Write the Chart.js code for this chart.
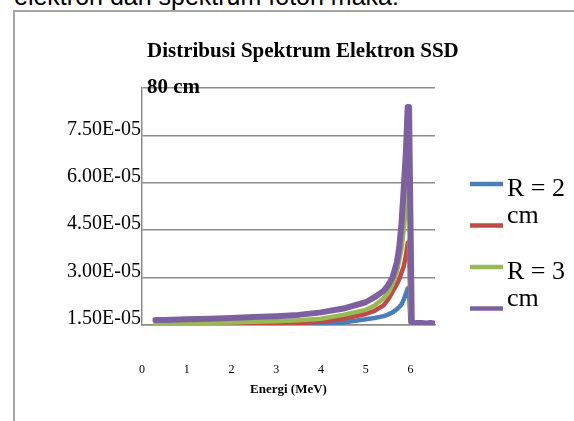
<!DOCTYPE html>
<html>
<head>
<meta charset="utf-8">
<script src="https://cdn.jsdelivr.net/npm/chart.js@4"></script>
<style>
  html, body { margin: 0; padding: 0; background: #fff; overflow: hidden; }
  body { width: 574px; height: 421px; position: relative; }
  #teksAtas {
    position: absolute; left: 14px; top: -16px; margin: 0;
    font: 25px/25px "Liberation Sans", Arial, sans-serif; color: #000; white-space: nowrap;
  }
  #bingkai {
    position: absolute; left: 13px; top: 10px; width: 620px; height: 460px;
    border: 2px solid #a6a6a6; box-sizing: border-box;
  }
  #wadah { position: absolute; left: 15px; top: 12px; width: 559px; height: 409px; }
</style>
</head>
<body>
<p id="teksAtas">elektron dan spektrum foton maka:</p>
<div id="bingkai"></div>
<div id="wadah"><canvas id="grafikSpektrum" width="559" height="409"></canvas></div>

<script>
// Judul grafik (dua baris seperti di gambar)
const judulBaris = ['Distribusi Spektrum Elektron SSD', '80 cm'];
const judulSumbuX = 'Energi (MeV)';

// Nama seri (seri merah dan ungu tidak terbaca di legenda)
const namaSeri = ['R = 2 cm', '', 'R = 3 cm', ''];
const warnaSeri = ['#4a7ebb', '#be4b48', '#98b954', '#7d60a0'];

// Energi (MeV)
const energi = [0.3, 0.5, 1.0, 1.5, 2.0, 2.5, 3.0, 3.5, 4.0, 4.5, 5.0, 5.2, 5.4, 5.5, 5.6,
                5.7, 5.75, 5.8, 5.85, 5.9, 5.94, 5.97, 6.0, 6.03, 6.07, 6.15, 6.25, 6.35, 6.45, 6.52];

// Nilai spektrum tiap seri
const seriR2 = [1.45e-5, 1.45e-5, 1.45e-5, 1.45e-5, 1.46e-5, 1.46e-5, 1.47e-5, 1.48e-5, 1.52e-5, 1.58e-5,
                1.68e-5, 1.72e-5, 1.78e-5, 1.83e-5, 1.90e-5, 2.00e-5, 2.07e-5, 2.15e-5, 2.30e-5, 2.50e-5,
                2.66e-5, 2.55e-5, 1.60e-5, 1.46e-5, 1.46e-5, 1.46e-5, 1.46e-5, 1.46e-5, 1.46e-5, 1.46e-5];
const seriMerah = [1.51e-5, 1.51e-5, 1.51e-5, 1.52e-5, 1.52e-5, 1.53e-5, 1.54e-5, 1.56e-5, 1.60e-5, 1.70e-5,
                   1.85e-5, 1.95e-5, 2.12e-5, 2.30e-5, 2.55e-5, 2.80e-5, 2.95e-5, 3.15e-5, 3.35e-5, 3.70e-5,
                   4.10e-5, 4.15e-5, 2.00e-5, 1.50e-5, 1.50e-5, 1.50e-5, 1.50e-5, 1.50e-5, 1.50e-5, 1.50e-5];
const seriR3 = [1.55e-5, 1.55e-5, 1.56e-5, 1.57e-5, 1.58e-5, 1.60e-5, 1.62e-5, 1.65e-5, 1.70e-5, 1.82e-5,
                1.98e-5, 2.12e-5, 2.35e-5, 2.50e-5, 2.78e-5, 3.20e-5, 3.55e-5, 3.90e-5, 4.50e-5, 5.20e-5,
                6.00e-5, 6.30e-5, 2.00e-5, 1.52e-5, 1.52e-5, 1.52e-5, 1.52e-5, 1.52e-5, 1.52e-5, 1.52e-5];
const seriUngu = [1.66e-5, 1.66e-5, 1.68e-5, 1.70e-5, 1.72e-5, 1.75e-5, 1.78e-5, 1.82e-5, 1.90e-5, 2.02e-5,
                  2.22e-5, 2.38e-5, 2.58e-5, 2.75e-5, 3.00e-5, 3.50e-5, 3.95e-5, 4.70e-5, 5.80e-5, 7.00e-5,
                  8.40e-5, 8.40e-5, 5.00e-5, 1.60e-5, 1.55e-5, 1.56e-5, 1.56e-5, 1.55e-5, 1.56e-5, 1.55e-5];

// Sumbu Y
const yMin = 1.5e-5;
const yMax = 9.0e-5;
const yLangkah = 1.5e-5;

// Sumbu X
const xMin = 0;
const xMax = 6.55;

const hurufSerif = '"Liberation Serif", "Times New Roman", serif';

// Format angka seperti Excel: 7.50E-05
function formatIlmiah(v) {
    const bagian = v.toExponential(2).split('e');
    const pangkat = Number(bagian[1]);
    return bagian[0] + 'E' + (pangkat < 0 ? '-' : '+') + String(Math.abs(pangkat)).padStart(2, '0');
}

function buatTitik(nilai) {
    return energi.map((e, i) => ({ x: e, y: nilai[i] }));
}

// Plugin kecil untuk judul dan legenda (menumpuk di area plot seperti aslinya)
const judulDanLegenda = {
    id: 'judulDanLegenda',
    afterDraw(chart) {
        const ctx = chart.ctx;
        const area = chart.chartArea;
        ctx.save();
        ctx.fillStyle = '#000';
        ctx.textAlign = 'left';
        ctx.textBaseline = 'alphabetic';

        // Judul
        ctx.font = 'bold 21px ' + hurufSerif;
        ctx.fillText(judulBaris[0], area.left + 5, area.top - 31);
        ctx.fillText(judulBaris[1], area.left + 5, area.top + 5);

        // Legenda
        ctx.font = '26px ' + hurufSerif;
        chart.data.datasets.forEach((ds, i) => {
            const y = area.top + 96 + i * 41.5;
            ctx.strokeStyle = ds.borderColor;
            ctx.lineWidth = 4.5;
            ctx.beginPath();
            ctx.moveTo(area.right + 35, y);
            ctx.lineTo(area.right + 68, y);
            ctx.stroke();

            if (ds.label) {
                const pisah = ds.label.lastIndexOf(' ');
                const baris = [ds.label.slice(0, pisah), ds.label.slice(pisah + 1)];
                ctx.fillText(baris[0], area.right + 72, y + 12);
                ctx.fillText(baris[1], area.right + 72, y + 39);
            }
        });
        ctx.restore();
    }
};

function buatDataset(label, nilai, warna, tebal, urutan) {
    return {
        label: label,
        data: buatTitik(nilai),
        borderColor: warna,
        backgroundColor: warna,
        borderWidth: tebal,
        pointRadius: 0,
        tension: 0,
        borderJoinStyle: 'round',
        borderCapStyle: 'round',
        fill: false,
        order: urutan
    };
}

function inisialisasiGrafik() {
    const ctx = document.getElementById('grafikSpektrum').getContext('2d');
    new Chart(ctx, {
        type: 'line',
        data: {
            datasets: [
                buatDataset(namaSeri[0], seriR2, warnaSeri[0], 4.5, 3),
                buatDataset(namaSeri[1], seriMerah, warnaSeri[1], 4.5, 2),
                buatDataset(namaSeri[2], seriR3, warnaSeri[2], 4.5, 1),
                buatDataset(namaSeri[3], seriUngu, warnaSeri[3], 6, 0)
            ]
        },
        options: {
            responsive: false,
            animation: false,
            layout: { padding: { left: 15, right: 139, top: 76, bottom: 0 } },
            plugins: {
                legend: { display: false },
                tooltip: { enabled: false },
                title: { display: false }
            },
            scales: {
                x: {
                    type: 'linear',
                    min: xMin,
                    max: xMax,
                    afterFit(scale) { scale.height = 96; },
                    grid: { display: false },
                    border: { display: true, color: '#8c8c8c', width: 1.5 },
                    ticks: {
                        stepSize: 1,
                        includeBounds: false,
                        padding: 30,
                        maxRotation: 0,
                        autoSkip: false,
                        color: '#000',
                        font: { family: hurufSerif, size: 12 },
                        callback: v => (Math.abs(v - Math.round(v)) < 1e-6 ? String(Math.round(v)) : '')
                    },
                    title: {
                        display: true,
                        text: judulSumbuX,
                        color: '#000',
                        font: { family: hurufSerif, size: 13, weight: 'bold' },
                        padding: { top: 0, bottom: 24 }
                    }
                },
                y: {
                    min: yMin,
                    max: yMax,
                    afterFit(scale) { scale.width = 112; },
                    grid: { color: '#8c8c8c', lineWidth: 1.5, drawTicks: false },
                    border: { display: true, color: '#8c8c8c', width: 1.5 },
                    ticks: {
                        stepSize: yLangkah,
                        padding: 1,
                        color: '#000',
                        font: { family: hurufSerif, size: 20, lineHeight: 0.6 },
                        callback: v => (v > yMax - yLangkah / 10 ? '' : [formatIlmiah(v), ''])
                    }
                }
            }
        },
        plugins: [judulDanLegenda]
    });
}

document.addEventListener('DOMContentLoaded', inisialisasiGrafik);
</script>
</body>
</html>
